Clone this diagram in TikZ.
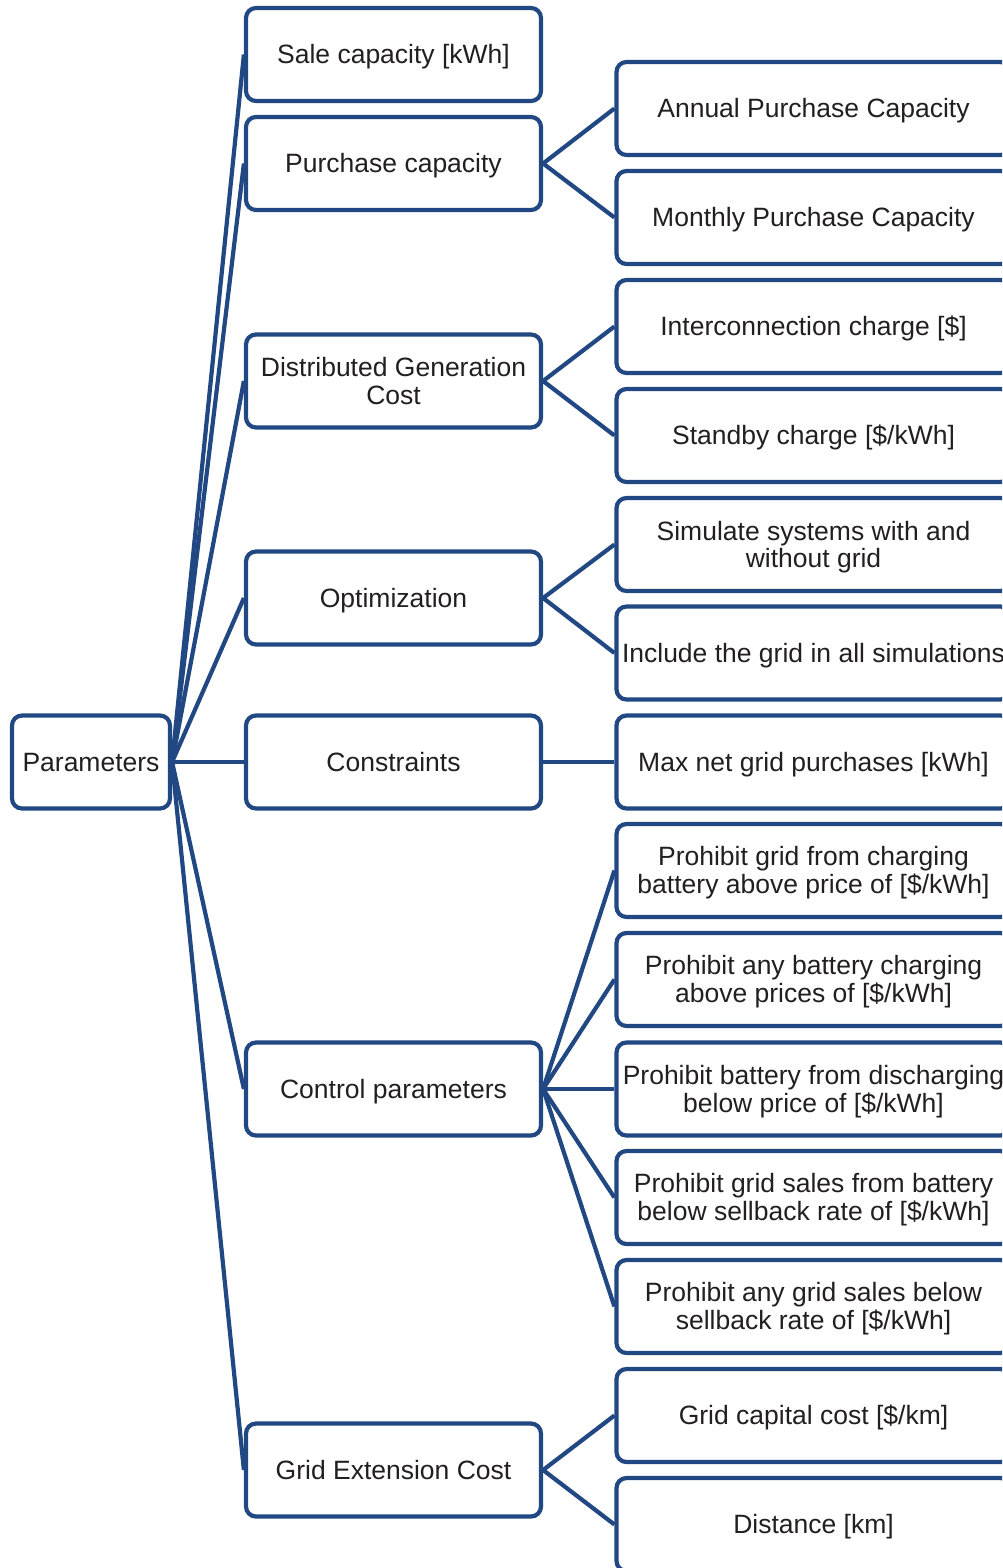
\documentclass[tikz,border=0pt]{standalone}
\usepackage{fontspec}
\setmainfont{Liberation Sans}
\definecolor{boxline}{RGB}{33,72,130}
\definecolor{ink}{RGB}{35,31,32}
% box label: centred lines, baseline held a fixed distance below the middle
\newcommand\boxtext[1]{\raisebox{-10pt}[0pt][0pt]{\begin{tabular}{@{}c@{}}#1\end{tabular}}}
\begin{document}
\begin{tikzpicture}[x=1pt,y=-1pt,
  box/.style={draw=boxline, line width=4.2pt, rounded corners=10pt, fill=white,
    text=ink, inner sep=0pt,
    font=\fontsize{26.5}{27.5}\selectfont},
  rootbox/.style={box, minimum width=158pt, minimum height=93pt},
  midbox/.style={box, minimum width=295pt, minimum height=93pt},
  leafbox/.style={box, minimum width=394pt, minimum height=93pt},
  link/.style={draw=boxline, line width=4.2pt, line join=round}]
\useasboundingbox (0,0) rectangle (1002,1568);
\clip (0,0) rectangle (1002,1568);
\fill[white] (0,0) rectangle (1002,1568);

% root
\node[rootbox] (root) at (91,762) {\boxtext{Parameters}};

% second level
\node[midbox] (sale) at (393.5,54.5) {\boxtext{Sale capacity [kWh]}};
\node[midbox] (purch) at (393.5,163.5) {\boxtext{Purchase capacity}};
\node[midbox] (dgc) at (393.5,381) {\boxtext{Distributed Generation\\Cost}};
\node[midbox] (opt) at (393.5,598) {\boxtext{Optimization}};
\node[midbox] (cons) at (393.5,762) {\boxtext{Constraints}};
\node[midbox] (ctrl) at (393.5,1089) {\boxtext{Control parameters}};
\node[midbox] (ext) at (393.5,1470) {\boxtext{Grid Extension Cost}};

% third level
\node[leafbox] (annual) at (813.5,108.5) {\boxtext{Annual Purchase Capacity}};
\node[leafbox] (monthly) at (813.5,217.5) {\boxtext{Monthly Purchase Capacity}};
\node[leafbox] (inter) at (813.5,326.5) {\boxtext{Interconnection charge [\$]}};
\node[leafbox] (standby) at (813.5,435.5) {\boxtext{Standby charge [\$/kWh]}};
\node[leafbox] (simul) at (813.5,544.5) {\boxtext{Simulate systems with and\\without grid}};
\node[leafbox] (incl) at (813.5,653) {\boxtext{Include the grid in all simulations}};
\node[leafbox] (maxnet) at (813.5,762) {\boxtext{Max net grid purchases [kWh]}};
\node[leafbox] (pgc) at (813.5,870.5) {\boxtext{Prohibit grid from charging\\battery above price of [\$/kWh]}};
\node[leafbox] (pabc) at (813.5,979.5) {\boxtext{Prohibit any battery charging\\above prices of [\$/kWh]}};
\node[leafbox] (pbd) at (813.5,1089) {\boxtext{Prohibit battery from discharging\\below price of [\$/kWh]}};
\node[leafbox] (pgs) at (813.5,1197.5) {\boxtext{Prohibit grid sales from battery\\below sellback rate of [\$/kWh]}};
\node[leafbox] (pags) at (813.5,1306.5) {\boxtext{Prohibit any grid sales below\\sellback rate of [\$/kWh]}};
\node[leafbox] (gcap) at (813.5,1415.5) {\boxtext{Grid capital cost [\$/km]}};
\node[leafbox] (dist) at (813.5,1524.5) {\boxtext{Distance [km]}};

% connectors from the root
\foreach \n in {sale,purch,dgc,opt,cons,ctrl,ext}
  \draw[link] (root.east) -- (\n.west);

% connectors to the third level
\foreach \a/\b in {purch/annual,purch/monthly,dgc/inter,dgc/standby,
    opt/simul,opt/incl,cons/maxnet,ctrl/pgc,ctrl/pabc,ctrl/pbd,ctrl/pgs,
    ctrl/pags,ext/gcap,ext/dist}
  \draw[link] (\a.east) -- (\b.west);
\end{tikzpicture}
\end{document}
